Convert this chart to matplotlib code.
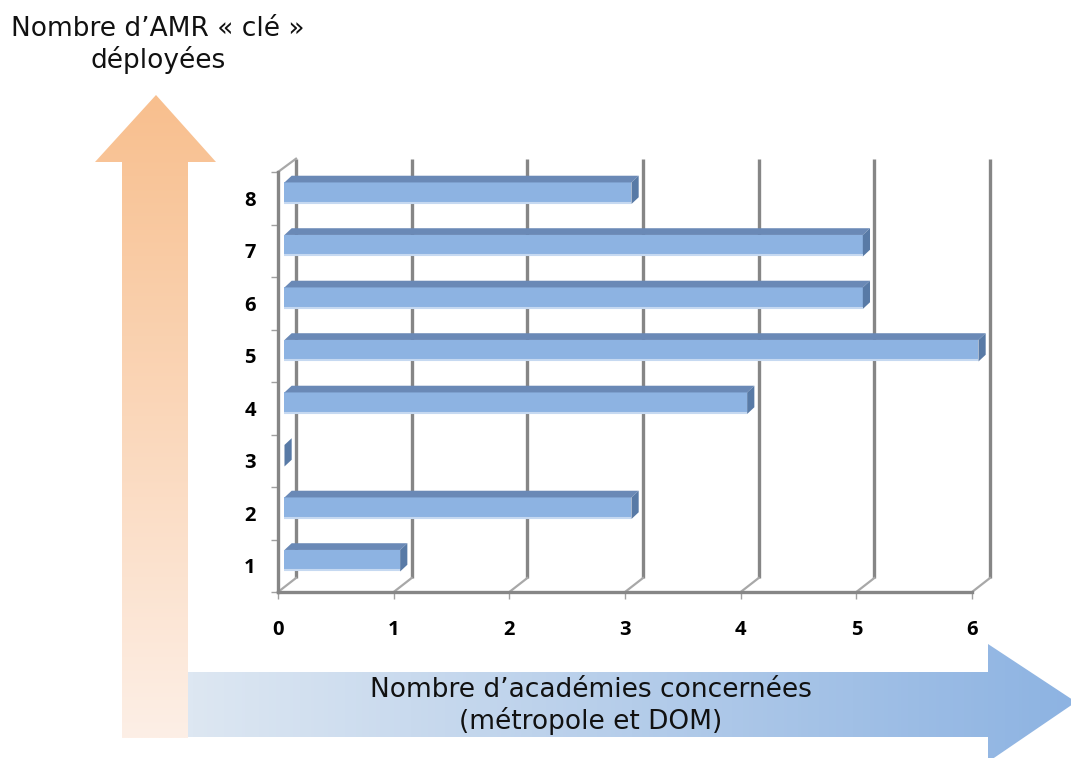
import numpy as np
import matplotlib
matplotlib.use("Agg")
from matplotlib import pyplot as plt
from matplotlib.patches import Polygon
from matplotlib.colors import LinearSegmentedColormap

plt.rcParams['font.family'] = ['DejaVu Sans']

# data
levels = [1, 2, 3, 4, 5, 6, 7, 8]
academies = [1, 3, 0, 4, 6, 5, 5, 3]
x_ticks = [0, 1, 2, 3, 4, 5, 6]
y_title = "Nombre d’AMR « clé »\ndéployées"
x_title = "Nombre d’académies concernées\n(métropole et DOM)"

W, H = 1071, 758
fig = plt.figure(figsize=(W / 100, H / 100), dpi=100)

# background layer in pixel units for the big arrows
bg = fig.add_axes([0, 0, 1, 1], zorder=0)
bg.set_xlim(0, W)
bg.set_ylim(H, 0)
bg.axis('off')


def gradient_arrow(pts, c0, c1, vertical):
    poly = Polygon(pts, closed=True, facecolor='none', edgecolor='none')
    bg.add_patch(poly)
    cmap = LinearSegmentedColormap.from_list('g', [c0, c1])
    xs = [p[0] for p in pts]
    ys = [p[1] for p in pts]
    grad = np.linspace(0, 1, 256)
    if vertical:
        img = grad[:, None]
    else:
        img = grad[None, :]
    im = bg.imshow(img, cmap=cmap, aspect='auto', interpolation='bilinear',
                   extent=[min(xs), max(xs), max(ys), min(ys)], zorder=0)
    im.set_clip_path(poly)


# vertical arrow (top orange -> bottom pale)
gradient_arrow([(122, 738), (122, 162), (95, 162), (156, 95), (216, 162),
                (188, 162), (188, 738)], '#F8BF8E', '#FDEFE6', True)
# horizontal arrow (left pale -> right blue)
gradient_arrow([(188, 672), (988, 672), (988, 644), (1076, 702), (988, 762),
                (988, 737), (188, 737)], '#DDE7F2', '#8DB3E2', False)
bg.set_xlim(0, W)
bg.set_ylim(H, 0)

bg.text(158, 45, y_title, ha='center', va='center', fontsize=19,
        linespacing=1.2, color='#111111')
bg.text(591, 706, x_title, ha='center', va='center', fontsize=19,
        linespacing=1.2, color='#111111')

# main chart (front plane)
x0, x6 = 278, 972
ytop, ybot = 172, 592
ax = fig.add_axes([x0 / W, (H - ybot) / H, (x6 - x0) / W, (ybot - ytop) / H],
                  zorder=1)
ax.patch.set_alpha(0)
ax.set_xlim(0, 6)
ax.set_ylim(0.5, 8.5)

px_x = (x6 - x0) / 6.0
px_y = (ybot - ytop) / 8.0
DX = 18 / px_x
DY = 14 / px_y

grid_c = '#868686'
# back wall gridlines
for i in x_ticks:
    ax.plot([i + DX, i + DX], [0.5 + DY, 8.5 + DY * 0.95], color=grid_c,
            lw=2.4, clip_on=False, zorder=1, solid_capstyle='butt')
    ax.plot([i, i + DX], [0.5, 0.5 + DY], color='#A8A8A8', lw=1.6,
            clip_on=False, zorder=1)
ax.plot([0, DX], [8.5, 8.5 + DY * 0.95], color='#A8A8A8', lw=1.6,
        clip_on=False, zorder=1)

# bars with pseudo 3d faces
f0 = 0.36
w = 0.4
bh = 0.41
front_c = '#8DB3E2'
top_c = '#6A89B6'
side_c = '#587AA6'
yc = np.array(levels) + f0 * DY
lefts = f0 * DX
bars = ax.barh(yc, academies, left=lefts, height=bh, color=front_c, zorder=3)
for b in bars:
    b.set_clip_on(False)
for y, v in zip(yc, academies):
    xl, xr = lefts, lefts + v
    yb, yt = y - bh / 2, y + bh / 2
    ax.add_patch(Polygon([(xl, yt), (xr, yt), (xr + w * DX, yt + w * DY * 1.2),
                          (xl + w * DX, yt + w * DY * 1.2)], closed=True,
                         facecolor=top_c, edgecolor='none', zorder=3,
                         clip_on=False))
    ax.add_patch(Polygon([(xr, yb), (xr, yt), (xr + w * DX, yt + w * DY * 1.2),
                          (xr + w * DX, yb + w * DY * 1.2)], closed=True,
                         facecolor=side_c, edgecolor='none', zorder=3,
                         clip_on=False))
    if v > 0:
        ax.plot([xl, xr], [yb + 0.02, yb + 0.02], color='#C6D9F1', lw=1.5,
                zorder=4, solid_capstyle='butt', clip_on=False)

# axes
for s in ['top', 'right']:
    ax.spines[s].set_visible(False)
for s in ['left', 'bottom']:
    ax.spines[s].set_color(grid_c)
    ax.spines[s].set_linewidth(2.4)
    ax.spines[s].set_zorder(2)

ax.set_yticks(levels)
ax.set_yticklabels([str(v) for v in levels])
ax.set_yticks(np.arange(0.5, 9.0, 1.0), minor=True)
ax.set_xticks(x_ticks)
ax.set_xticklabels([str(v) for v in x_ticks])
ax.tick_params(axis='y', which='major', length=0, pad=16)
ax.tick_params(axis='y', which='minor', length=5, color='#A0A0A0', width=1)
ax.tick_params(axis='x', which='major', length=5, color='#A0A0A0', width=1,
               pad=15)
for lab in ax.get_xticklabels() + ax.get_yticklabels():
    lab.set_fontfamily(['Open Sans', 'DejaVu Sans'])
    lab.set_fontweight('bold')
    lab.set_fontsize(14.5)

fig.savefig('out.png', dpi=100)
